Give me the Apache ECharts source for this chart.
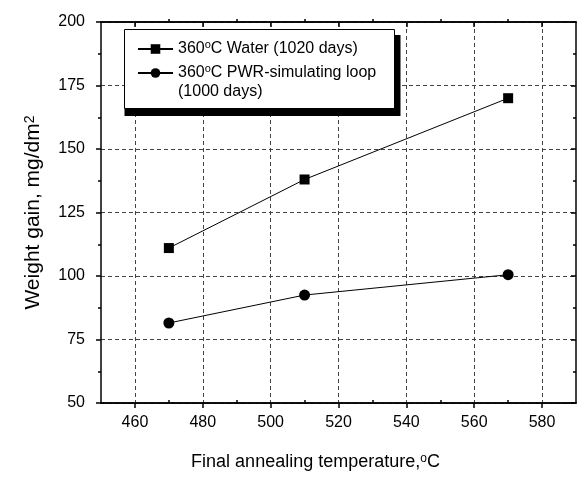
<!DOCTYPE html>
<html>
<head>
<meta charset="utf-8">
<script src="https://cdn.jsdelivr.net/npm/echarts@6/dist/echarts.min.js"></script>
<style>
  html, body { margin: 0; padding: 0; background: #fff; }
  #chart { width: 582px; height: 480px; }
</style>
</head>
<body>
<div id="chart"></div>
<script>
// data
const temps = [470, 510, 570]
const waterGain = [111, 138, 170]
const pwrGain = [81.5, 92.5, 100.5]
const xMajorTicks = [460, 480, 500, 520, 540, 560, 580]
const xMinorTicks = [470, 490, 510, 530, 550, 570]

const legendText = {
  water: '360{sup|o}C Water (1020 days)',
  pwr: '360{sup|o}C PWR-simulating loop'
}

const font = 'Liberation Sans, Arial, sans-serif'
const supStyle = { fontSize: 11, lineHeight: 11, verticalAlign: 'top', fontFamily: font, color: '#000' }

const chart = echarts.init(document.getElementById('chart'))

const frameLine = { show: true, onZero: false, lineStyle: { color: '#000', width: 1.5 } }

const xBase = {
  type: 'value',
  min: 450,
  max: 590,
  axisLine: frameLine,
  splitLine: { show: false }
}

const legendBase = {
  orient: 'vertical',
  itemWidth: 35,
  itemHeight: 12,
  padding: 0,
  z: 6,
  formatter: name => legendText[name],
  textStyle: {
    fontFamily: font,
    fontSize: 16,
    lineHeight: 19,
    color: '#000',
    rich: { sup: supStyle }
  }
}

const option = {
  backgroundColor: '#fff',
  animation: false,
  grid: { left: 101, right: 6, top: 22, bottom: 77 },
  // legend frame with its hard black shadow
  graphic: [
    { type: 'rect', z: 4, shape: { x: 124.5, y: 35, width: 276, height: 81 }, style: { fill: '#000' } },
    { type: 'rect', z: 5, shape: { x: 124.5, y: 29.5, width: 270, height: 79 }, style: { fill: '#fff', stroke: '#000', lineWidth: 1 } },
    {
      type: 'text', z: 6, x: 178, y: 92,
      style: { text: '(1000 days)', font: '16px ' + font, fill: '#000', verticalAlign: 'middle' }
    }
  ],
  legend: [
    Object.assign({}, legendBase, { left: 137, top: 39.5, data: ['water'] }),
    Object.assign({}, legendBase, { left: 137, top: 63.5, data: ['pwr'] })
  ],
  xAxis: [
    Object.assign({}, xBase, {
      position: 'bottom',
      name: 'Final annealing temperature,{sup|o}C',
      nameLocation: 'middle',
      nameGap: 50,
      nameTextStyle: {
        fontFamily: font, fontSize: 18, color: '#000',
        padding: [0, 46, 0, 0],
        rich: { sup: Object.assign({}, supStyle, { fontSize: 12 }) }
      },
      axisTick: { show: true, inside: false, length: 5, customValues: xMajorTicks, lineStyle: { color: '#000', width: 1.5 } },
      axisLabel: { show: true, customValues: xMajorTicks, margin: 12, fontFamily: font, fontSize: 16, color: '#000' },
      splitLine: { show: true, lineStyle: { color: '#444', width: 1, type: [4, 3] } }
    }),
    // top frame, major ticks inside
    Object.assign({}, xBase, {
      position: 'top',
      axisTick: { show: true, inside: true, length: 5, customValues: xMajorTicks, lineStyle: { color: '#000', width: 1.5 } },
      axisLabel: { show: false }
    }),
    // minor ticks; top is taken so the grid puts this one at the bottom
    Object.assign({}, xBase, {
      position: 'top',
      axisTick: { show: true, inside: false, length: 3, customValues: xMinorTicks, lineStyle: { color: '#000', width: 1.5 } },
      axisLabel: { show: false }
    }),
    // minor ticks, lands on top
    Object.assign({}, xBase, {
      position: 'bottom',
      axisTick: { show: true, inside: true, length: 3, customValues: xMinorTicks, lineStyle: { color: '#000', width: 1.5 } },
      axisLabel: { show: false }
    })
  ],
  yAxis: [
    {
      type: 'value',
      position: 'left',
      min: 50,
      max: 200,
      interval: 25,
      name: 'Weight gain, mg/dm{sup|2}',
      nameLocation: 'middle',
      nameGap: 57,
      nameTextStyle: {
        fontFamily: font, fontSize: 21, color: '#000',
        rich: { sup: Object.assign({}, supStyle, { fontSize: 14, lineHeight: 14 }) }
      },
      axisLine: frameLine,
      axisTick: { show: true, inside: false, length: 5, lineStyle: { color: '#000', width: 1.5 } },
      minorTick: { show: true, splitNumber: 2, length: 3, lineStyle: { color: '#000', width: 1.5 } },
      axisLabel: { margin: 16, fontFamily: font, fontSize: 16, color: '#000' },
      splitLine: { show: true, lineStyle: { color: '#444', width: 1, type: [4, 3] } }
    },
    {
      type: 'value',
      position: 'right',
      min: 50,
      max: 200,
      interval: 25,
      axisLine: frameLine,
      axisTick: { show: true, inside: true, length: 5, lineStyle: { color: '#000', width: 1.5 } },
      minorTick: { show: true, splitNumber: 2, length: 3, lineStyle: { color: '#000', width: 1.5 } },
      axisLabel: { show: false },
      splitLine: { show: false }
    }
  ],
  series: [
    {
      name: 'water',
      type: 'line',
      xAxisIndex: 0,
      yAxisIndex: 0,
      data: temps.map((t, i) => [t, waterGain[i]]),
      symbol: 'rect',
      symbolSize: 10,
      lineStyle: { color: '#000', width: 1 },
      itemStyle: { color: '#000' }
    },
    {
      name: 'pwr',
      type: 'line',
      xAxisIndex: 0,
      yAxisIndex: 0,
      data: temps.map((t, i) => [t, pwrGain[i]]),
      symbol: 'circle',
      symbolSize: 11,
      lineStyle: { color: '#000', width: 1 },
      itemStyle: { color: '#000' }
    }
  ]
}

chart.setOption(option)
</script>
</body>
</html>
